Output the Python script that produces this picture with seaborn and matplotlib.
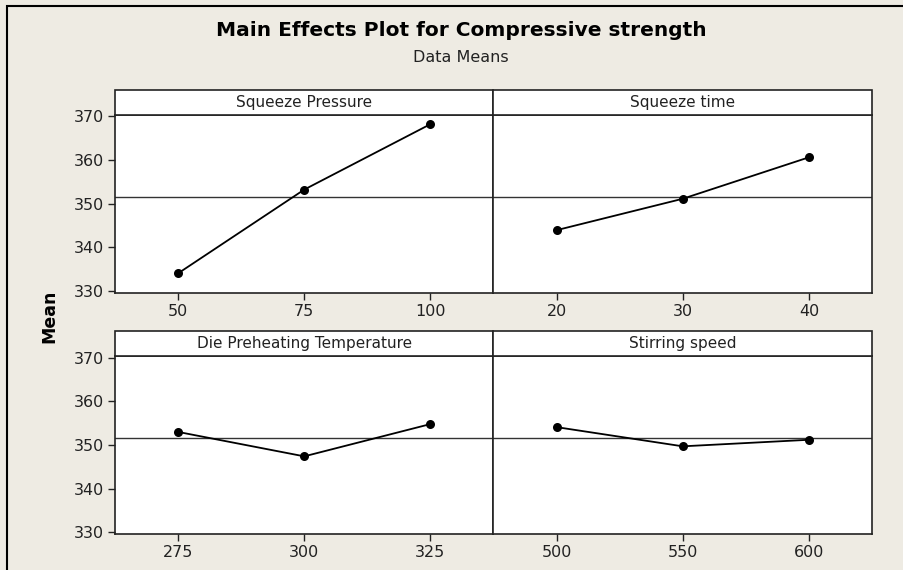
import pandas as pd
import seaborn as sns
import matplotlib.pyplot as plt
from matplotlib.patches import Rectangle

# Data
factors = ["Squeeze Pressure", "Squeeze time", "Die Preheating Temperature", "Stirring speed"]
levels_pressure = [50, 75, 100]
means_pressure = [334.0, 353.2, 368.2]
levels_time = [20, 30, 40]
means_time = [343.9, 351.1, 360.6]
levels_temp = [275, 300, 325]
means_temp = [353.0, 347.4, 354.8]
levels_speed = [500, 550, 600]
means_speed = [354.1, 349.7, 351.2]
grand_mean = 351.6
y_ticks = [330, 340, 350, 360, 370]

levels = [levels_pressure, levels_time, levels_temp, levels_speed]
means = [means_pressure, means_time, means_temp, means_speed]

BG = "#EEEBE3"

sns.set_theme(style="white")
plt.rcParams["font.family"] = ["DejaVu Sans"]

fig, axes = plt.subplots(2, 2, figsize=(9.04, 5.70), dpi=100, sharey=True)
fig.patch.set_facecolor(BG)
plt.subplots_adjust(left=115 / 904, right=872 / 904, top=1 - 115 / 570,
                    bottom=1 - 534 / 570, wspace=0, hspace=0.36)

for i, ax in enumerate(axes.flat):
    df = pd.DataFrame({"level": levels[i], "mean": means[i]})
    step = levels[i][1] - levels[i][0]
    ax.set_facecolor("white")
    ax.axhline(grand_mean, color="#333333", lw=1.0, zorder=1)
    sns.lineplot(data=df, x="level", y="mean", ax=ax, color="black", lw=1.3,
                 marker="o", markersize=6.5, markeredgewidth=0, zorder=3)
    ax.set_xlim(levels[i][0] - step / 2, levels[i][-1] + step / 2)
    ax.set_xticks(levels[i])
    ax.set_ylim(329.6, 370.3)
    ax.set_yticks(y_ticks)
    ax.set_xlabel("")
    ax.set_ylabel("")
    for sp in ax.spines.values():
        sp.set_color("#222222")
        sp.set_linewidth(1.2)
    ax.tick_params(axis="x", bottom=True, direction="out", length=5, width=1,
                   color="#222222", labelsize=11.5, labelcolor="#222222", pad=3)
    if i % 2 == 0:
        ax.tick_params(axis="y", left=True, direction="out", length=5, width=1,
                       color="#222222", labelsize=11.5, labelcolor="#222222", pad=3)
    else:
        ax.tick_params(axis="y", left=False, labelleft=False)

    # strip title box above the panel
    h = 25 / (ax.get_position().height * 570)
    ax.add_patch(Rectangle((0, 1), 1, h, transform=ax.transAxes, clip_on=False,
                           facecolor="white", edgecolor="#222222", lw=1.2, zorder=5))
    ax.text(0.5, 1 + h / 2, factors[i], transform=ax.transAxes, ha="center",
            va="center", fontsize=11, color="#222222", zorder=6)

fig.text(0.51, 1 - 30 / 570, "Main Effects Plot for Compressive strength",
         ha="center", va="center", fontsize=14.5, fontweight="bold", color="black")
fig.text(0.51, 1 - 57 / 570, "Data Means", ha="center", va="center",
         fontsize=11.5, color="#222222")
fig.text(49 / 904, 1 - 316 / 570, "Mean", ha="center", va="center",
         rotation=90, fontsize=12.5, fontweight="bold", color="black")

# outer frame (left and top edges visible, runs off the image elsewhere)
fig.add_artist(Rectangle((7 / 904, -0.1), 1.2, 1.1 - 6 / 570, transform=fig.transFigure,
                         facecolor="none", edgecolor="black", lw=1.5))

plt.savefig("out.png", dpi=100, facecolor=BG)
